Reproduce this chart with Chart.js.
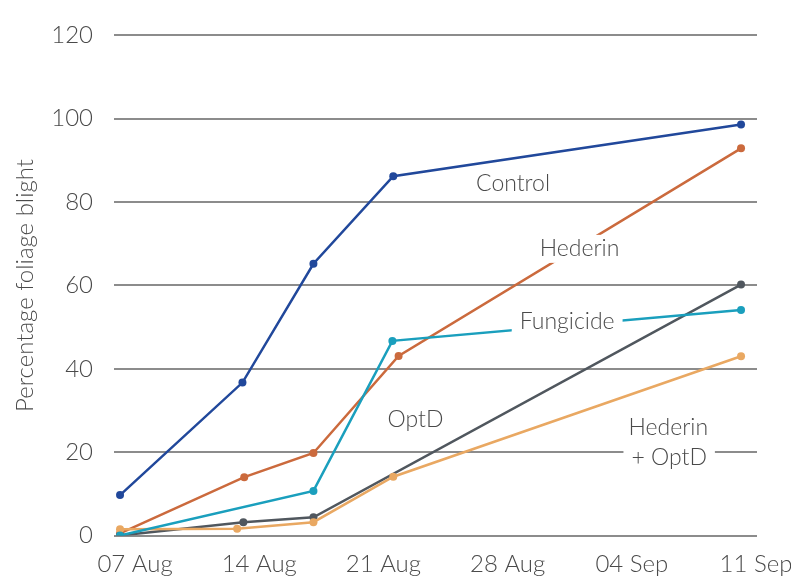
<!DOCTYPE html>
<html>
<head>
<meta charset="utf-8">
<script src="https://cdn.jsdelivr.net/npm/chart.js@4.4.0/dist/chart.umd.min.js"></script>
<style>
    html, body { margin: 0; padding: 0; background: #fff; }
</style>
</head>
<body>
<canvas id="graficoBlight" width="791" height="577"></canvas>
<script>
// x values are days counted from 07 Aug
const tickDays = [0, 7, 14, 21, 28, 35];
const tickLabels = ["07 Aug", "14 Aug", "21 Aug", "28 Aug", "04 Sep", "11 Sep"];
const yTitle = "Percentage foliage blight";

const controlDays = [0, 6.9, 10.9, 15.4, 35];
const controlValues = [9.7, 36.7, 65.2, 86.2, 98.6];

const hederinDays = [0, 7.0, 10.9, 15.7, 35];
const hederinValues = [0.5, 14.0, 19.8, 43.1, 92.9];

const fungicideDays = [0, 10.9, 15.35, 35];
const fungicideValues = [0, 10.7, 46.7, 54.1];

const optdDays = [0, 6.95, 10.9, 35];
const optdValues = [0, 3.2, 4.35, 60.2];

const hedOptdDays = [0, 6.6, 10.9, 15.4, 35];
const hedOptdValues = [1.5, 1.6, 3.2, 14.1, 43.0];

const textColor = "#4a4a4a";
const fontFamily = "Lato, 'Open Sans', sans-serif";

function pontos(days, values) {
    return days.map((d, i) => ({ x: d, y: values[i] }));
}

function serie(label, days, values, color) {
    return {
        label: label,
        data: pontos(days, values),
        borderColor: color,
        backgroundColor: color,
        borderWidth: 2.5,
        pointRadius: 4,
        pointBorderWidth: 0,
        pointBackgroundColor: color,
        tension: 0,
        fill: false
    };
}

// labels written on the plot, some with a white box that cuts the line behind
const lineLabels = {
    id: "lineLabels",
    afterDatasetsDraw(chart, args, opts) {
        const ctx = chart.ctx;
        const xs = chart.scales.x;
        const ys = chart.scales.y;
        ctx.save();
        ctx.font = "300 23px " + fontFamily;
        ctx.textAlign = "center";
        ctx.textBaseline = "alphabetic";
        opts.items.forEach(item => {
            const px = xs.getPixelForValue(item.day);
            const py = ys.getPixelForValue(item.value);
            if (item.bg) {
                const w = ctx.measureText(item.text).width;
                ctx.fillStyle = "#ffffff";
                ctx.fillRect(px - w / 2 - 8, py - 21, w + 16, 28);
            }
            ctx.fillStyle = textColor;
            ctx.fillText(item.text, px, py);
        });
        ctx.restore();
    }
};

const ctx = document.getElementById("graficoBlight").getContext("2d");

new Chart(ctx, {
    type: "line",
    data: {
        datasets: [
            serie("Fungicide", fungicideDays, fungicideValues, "#1a9fbd"),
            serie("Hederin + OptD", hedOptdDays, hedOptdValues, "#e9a862"),
            serie("OptD", optdDays, optdValues, "#50575e"),
            serie("Hederin", hederinDays, hederinValues, "#cb6a3d"),
            serie("Control", controlDays, controlValues, "#21489b")
        ]
    },
    plugins: [lineLabels],
    options: {
        responsive: false,
        animation: false,
        devicePixelRatio: 1,
        layout: { padding: { left: 0, right: 34, top: 34, bottom: 0 } },
        plugins: {
            legend: { display: false },
            tooltip: { enabled: false },
            lineLabels: {
                items: [
                    { text: "Control", day: 22.15, value: 82.7, bg: false },
                    { text: "Hederin", day: 25.9, value: 67.1, bg: true },
                    { text: "Fungicide", day: 25.2, value: 49.6, bg: true },
                    { text: "OptD", day: 16.65, value: 26.0, bg: false },
                    { text: "Hederin", day: 30.9, value: 24.0, bg: false },
                    { text: "+ OptD", day: 30.95, value: 16.8, bg: true }
                ]
            }
        },
        scales: {
            x: {
                type: "linear",
                min: -0.34,
                max: 35.9,
                afterBuildTicks: scale => {
                    scale.ticks = tickDays.map(v => ({ value: v }));
                },
                afterFit: scale => {
                    scale.height = 41.5;
                    scale.paddingLeft = 0;
                    scale.paddingRight = 0;
                },
                grid: { display: false, drawTicks: false },
                border: { display: false },
                ticks: {
                    autoSkip: false,
                    maxRotation: 0,
                    labelOffset: 15,
                    padding: 14,
                    color: textColor,
                    font: { family: fontFamily, size: 24, weight: "300" },
                    callback: v => tickLabels[tickDays.indexOf(v)]
                }
            },
            y: {
                min: 0,
                max: 120,
                afterFit: scale => {
                    scale.width = 114;
                },
                grid: { color: "#8c8c8c", lineWidth: 2, drawTicks: false },
                border: { display: false },
                ticks: {
                    stepSize: 20,
                    padding: 21,
                    color: textColor,
                    font: { family: fontFamily, size: 24, weight: "300" }
                },
                title: {
                    display: true,
                    text: yTitle,
                    color: textColor,
                    font: { family: fontFamily, size: 24, weight: "300" },
                    padding: { top: 11, bottom: 0 }
                }
            }
        }
    }
});
</script>
</body>
</html>
